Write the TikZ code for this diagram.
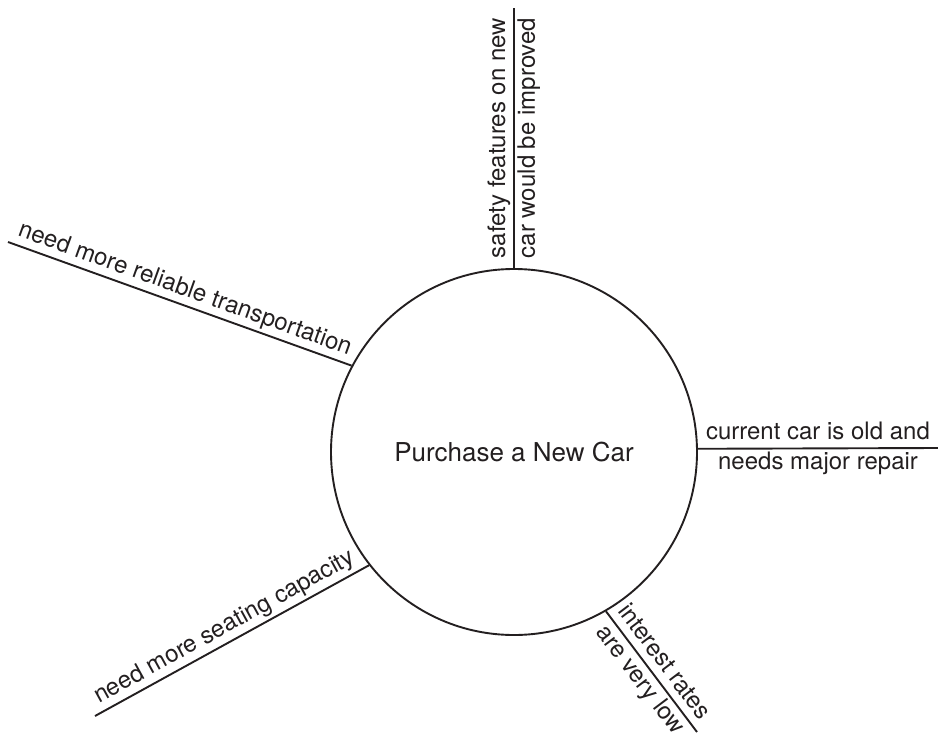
\documentclass[tikz,border=0pt]{standalone}
\usepackage{fontspec}
\setmainfont{TeX Gyre Heros}
\usepackage{xcolor}
\definecolor{ink}{RGB}{35,31,32}
\usetikzlibrary{positioning}

\begin{document}
\begin{tikzpicture}[x=1bp, y=-1bp,
    hub/.style={circle, draw=ink, line width=1.9bp, minimum size=366bp, inner sep=0pt,
                text=ink, font=\fontsize{26bp}{30bp}\selectfont},
    spoke/.style={draw=ink, line width=1.9bp},
    lbl/.style={sloped, midway, text=ink, font=\fontsize{24bp}{28bp}\selectfont,
                inner sep=3bp, text height=17bp, text depth=5bp}
]
    \useasboundingbox (0,0) rectangle (938,734);

    \node[hub] (car) at (514,452) {Purchase a New Car};

    \coordinate (safetyend)   at (514,8);
    \coordinate (repairend)   at (938,448);
    \coordinate (reliableend) at (8,242);
    \coordinate (seatingend)  at (95,716);
    \coordinate (ratesend)    at (697,732);

    \draw[spoke] (car.90) -- (safetyend)
        node[lbl, above, allow upside down]{safety features on new}
        node[lbl, below, allow upside down]{car would be improved};
    \draw[spoke] (car.1.25) -- (repairend)
        node[lbl, above]{current car is old and}
        node[lbl, below]{needs major repair};
    \draw[spoke] (reliableend) -- (car.152.3)
        node[lbl, above]{need more reliable transportation};
    \draw[spoke] (seatingend) -- (car.218.2)
        node[lbl, above]{need more seating capacity};
    \draw[spoke] (car.300.2) -- (ratesend)
        node[lbl, above]{interest rates}
        node[lbl, below]{are very low};
\end{tikzpicture}
\end{document}
